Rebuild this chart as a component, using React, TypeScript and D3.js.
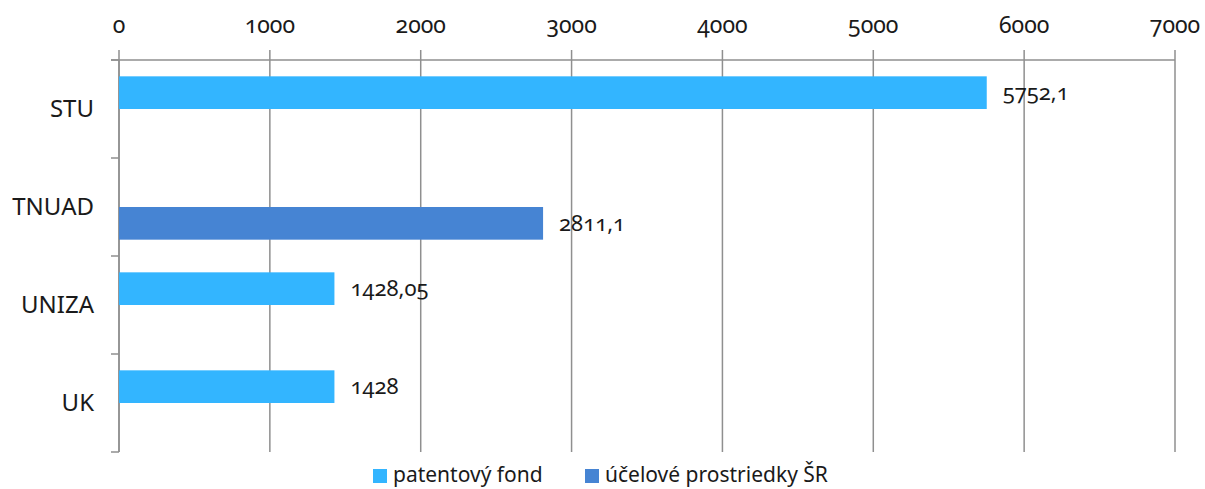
import React, { useEffect, useRef } from 'react';
import * as d3 from 'd3';

const categories = ['STU', 'TNUAD', 'UNIZA', 'UK'];
const seriesNames = ['patentový fond', 'účelové prostriedky ŠR'];
const patentovyFond: (number | null)[] = [5752.1, null, 1428.05, 1428];
const ucelove: (number | null)[] = [null, 2811.1, null, null];
const xTicks = [0, 1000, 2000, 3000, 4000, 5000, 6000, 7000];
const colors = ['#33b5ff', '#4684d3'];

const WIDTH = 1205;
const HEIGHT = 489;
const FONT = '"Noto Sans", "Open Sans", sans-serif';

export default function App() {
  const svgRef = useRef<SVGSVGElement>(null);

  useEffect(() => {
    const svgEl = svgRef.current;
    if (!svgEl) return;
    const svg = d3.select(svgEl);
    svg.selectAll('*').remove();

    const margin = { top: 60, right: 30, bottom: 37, left: 119 };
    const x = d3.scaleLinear().domain([0, 7000]).range([margin.left, WIDTH - margin.right]);
    const y = d3.scaleBand().domain(categories).range([margin.top, HEIGHT - margin.bottom]).paddingInner(0).paddingOuter(0);
    const ySub = d3.scaleBand().domain(seriesNames).range([0, y.bandwidth()]).paddingInner(0).paddingOuter(0.5);
    const axisColor = '#8f8f8f';

    // gridlines + top ticks
    svg.append('g')
      .selectAll('line')
      .data(xTicks)
      .join('line')
      .attr('x1', d => x(d))
      .attr('x2', d => x(d))
      .attr('y1', margin.top - 10)
      .attr('y2', HEIGHT - margin.bottom)
      .attr('stroke', axisColor)
      .attr('stroke-width', 1.5);

    // top axis line
    svg.append('line')
      .attr('x1', margin.left - 8)
      .attr('x2', x(7000))
      .attr('y1', margin.top)
      .attr('y2', margin.top)
      .attr('stroke', axisColor)
      .attr('stroke-width', 1.5);

    // tick labels
    svg.append('g')
      .selectAll('text')
      .data(xTicks)
      .join('text')
      .attr('x', d => x(d))
      .attr('y', 33)
      .attr('text-anchor', 'middle')
      .attr('font-family', FONT)
      .attr('font-size', 23)
      .style('font-variant-numeric', 'oldstyle-nums')
      .attr('fill', '#1a1a1a')
      .text(d => String(d));

    // left axis
    svg.append('line')
      .attr('x1', margin.left)
      .attr('x2', margin.left)
      .attr('y1', margin.top)
      .attr('y2', HEIGHT - margin.bottom)
      .attr('stroke', axisColor)
      .attr('stroke-width', 1.5);

    const bounds = categories.map(c => y(c) as number).concat([HEIGHT - margin.bottom]);
    svg.append('g')
      .selectAll('line')
      .data(bounds)
      .join('line')
      .attr('x1', margin.left - 8)
      .attr('x2', margin.left)
      .attr('y1', d => d)
      .attr('y2', d => d)
      .attr('stroke', axisColor)
      .attr('stroke-width', 1.5);

    // category labels
    svg.append('g')
      .selectAll('text')
      .data(categories)
      .join('text')
      .attr('x', 94)
      .attr('y', d => (y(d) as number) + y.bandwidth() / 2)
      .attr('dy', '0.35em')
      .attr('text-anchor', 'end')
      .attr('font-family', FONT)
      .attr('font-size', 24)
      .attr('fill', '#1a1a1a')
      .text(d => d);

    // bars
    const allSeries = [patentovyFond, ucelove];
    allSeries.forEach((values, si) => {
      const rows = categories
        .map((c, i) => ({ c, v: values[i] }))
        .filter(r => r.v !== null) as { c: string; v: number }[];
      const g = svg.append('g');
      g.selectAll('rect')
        .data(rows)
        .join('rect')
        .attr('x', x(0))
        .attr('y', d => (y(d.c) as number) + (ySub(seriesNames[si]) as number))
        .attr('width', d => x(d.v) - x(0))
        .attr('height', ySub.bandwidth())
        .attr('fill', colors[si]);
      g.selectAll('text')
        .data(rows)
        .join('text')
        .attr('x', d => x(d.v) + 16)
        .attr('y', d => (y(d.c) as number) + (ySub(seriesNames[si]) as number) + ySub.bandwidth() / 2)
        .attr('dy', '0.35em')
        .attr('font-family', FONT)
        .attr('font-size', 22)
        .style('font-variant-numeric', 'oldstyle-nums')
        .attr('fill', '#1a1a1a')
        .text(d => String(d.v).replace('.', ','));
    });

    // legend
    const legendX = [373, 585];
    const legend = svg.append('g');
    seriesNames.forEach((name, i) => {
      legend.append('rect')
        .attr('x', legendX[i])
        .attr('y', 469)
        .attr('width', 14)
        .attr('height', 14)
        .attr('fill', colors[i]);
      legend.append('text')
        .attr('x', legendX[i] + 20)
        .attr('y', 482)
        .attr('font-family', FONT)
        .attr('font-size', 21)
        .attr('fill', '#1a1a1a')
        .text(name);
    });
  }, []);

  return (
    <div style={{ position: 'absolute', left: 0, top: 0 }}>
      <svg ref={svgRef} width={WIDTH} height={HEIGHT} style={{ display: 'block', background: '#fff' }} />
    </div>
  );
}
